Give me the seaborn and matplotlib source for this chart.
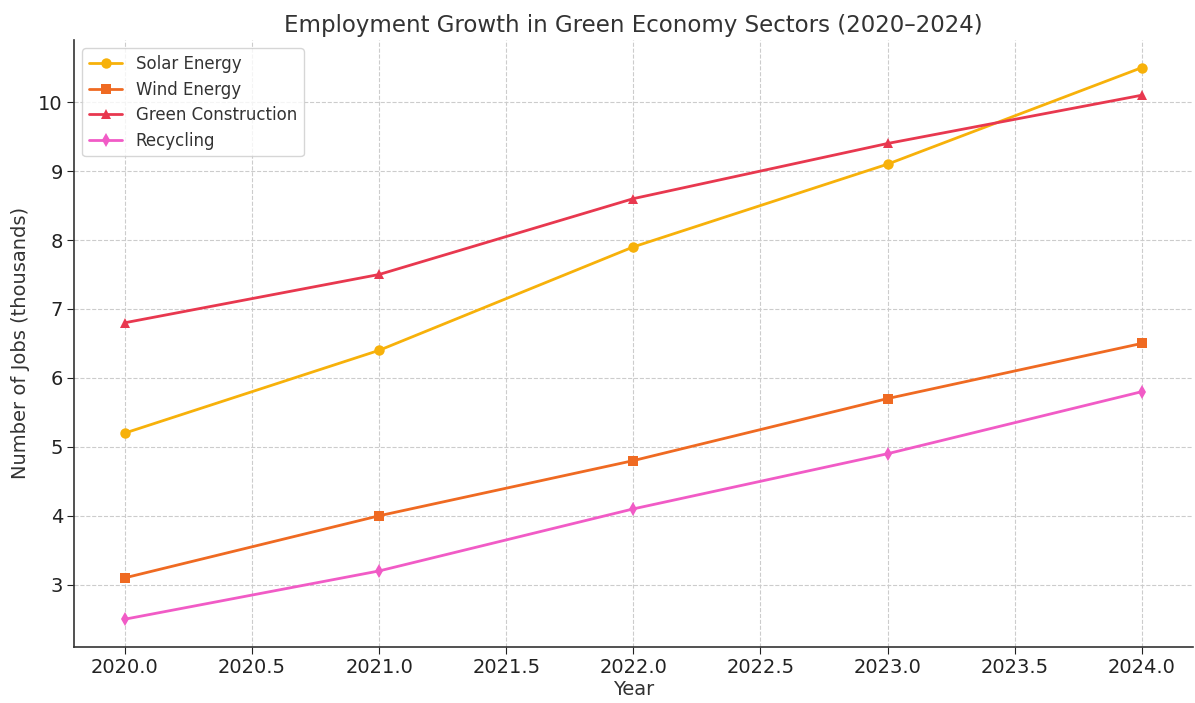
import matplotlib
matplotlib.use("Agg")
import matplotlib.pyplot as plt
import pandas as pd
import seaborn as sns

years = [2020, 2021, 2022, 2023, 2024]
solar_energy = [5.2, 6.4, 7.9, 9.1, 10.5]
wind_energy = [3.1, 4.0, 4.8, 5.7, 6.5]
green_construction = [6.8, 7.5, 8.6, 9.4, 10.1]
recycling = [2.5, 3.2, 4.1, 4.9, 5.8]

sectors = ["Solar Energy", "Wind Energy", "Green Construction", "Recycling"]
colors = ["#F7B10A", "#EF6A22", "#E8384F", "#F15BC6"]
markers = ["o", "s", "^", "d"]

df = pd.DataFrame({
    "Year": years * 4,
    "Jobs": solar_energy + wind_energy + green_construction + recycling,
    "Sector": [s for s in sectors for _ in years],
})

sns.set_style("white")
plt.rcParams["font.family"] = ["DejaVu Sans"]

fig, ax = plt.subplots(figsize=(11.95, 7.03), dpi=100)
sns.lineplot(
    data=df, x="Year", y="Jobs", hue="Sector", style="Sector",
    palette=colors, markers=markers, dashes=False, markersize=7.5,
    markeredgewidth=0, linewidth=2, ax=ax,
)

ax.grid(True, linestyle="--", color="#cccccc", linewidth=0.8)
for side in ["top", "right"]:
    ax.spines[side].set_visible(False)
for side in ["left", "bottom"]:
    ax.spines[side].set_color("#333333")
    ax.spines[side].set_linewidth(1.2)

ax.set_title("Employment Growth in Green Economy Sectors (2020–2024)", fontsize=16.5, color="#333333")
ax.set_xlabel("Year", fontsize=14, color="#333333", labelpad=2)
ax.set_ylabel("Number of Jobs (thousands)", fontsize=14, color="#333333", labelpad=6)
ax.tick_params(axis="both", labelsize=14, colors="#222222", length=5, pad=3, left=True, bottom=True)
ax.set_xticks([2020.0, 2020.5, 2021.0, 2021.5, 2022.0, 2022.5, 2023.0, 2023.5, 2024.0])
ax.set_xticklabels([f"{v:.1f}" for v in ax.get_xticks()])

leg = ax.legend(loc="upper left", fontsize=12, frameon=True, labelspacing=0.45)
leg.get_frame().set_edgecolor("#cccccc")
for t in leg.get_texts():
    t.set_color("#333333")

plt.subplots_adjust(left=0.062, right=0.998, top=0.943, bottom=0.08)
plt.savefig("out.png", dpi=100)
